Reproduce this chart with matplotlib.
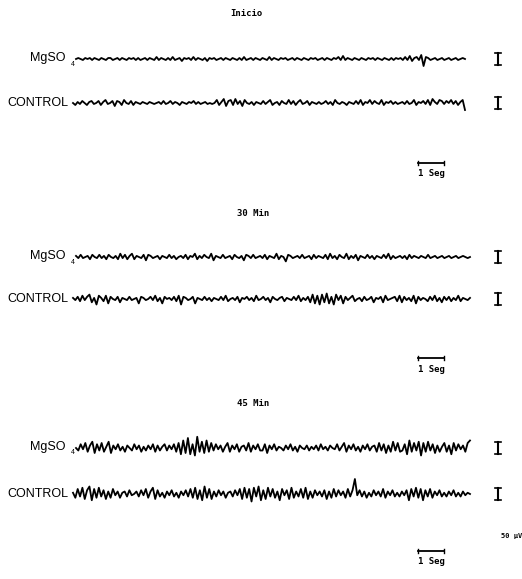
import numpy as np
import matplotlib
matplotlib.use('Agg')
from matplotlib import pyplot as plt

# eeg traces, deflection in px (up = positive)
m0 = [0,1,0,-1,1,0,1,-1,1,0,-1,1,0,-1,1,1,-1,0,1,-1,
      1,0,-1,1,0,1,-1,1,-1,0,1,-1,1,0,-1,2,-1,1,0,-1,
      1,-1,2,-1,0,1,-2,1,0,1,-1,2,-1,1,0,-1,1,-2,1,0,
      1,-1,0,1,-1,1,0,-1,1,0,-1,1,-1,2,-1,0,1,-1,1,0,
      -1,1,0,-1,2,-1,1,0,-1,1,0,1,-1,0,1,-1,1,0,-1,1,
      0,-1,1,0,1,-1,0,1,-1,1,0,-1,1,0,2,-1,3,-1,1,0,
      -1,1,0,-1,1,0,-1,1,0,1,-1,1,0,-1,1,0,-1,1,-1,1,
      0,1,-1,2,-1,3,-2,1,2,-1,4,-7,2,1,-1,0,1,-1,0,1,
      -1,0,1,-1,0,1,-1,0,1,0]
c0 = [0,-2,1,-1,2,0,-2,1,2,-1,0,2,-2,1,3,-1,0,2,-3,2,
      1,-2,3,0,-1,2,-2,1,0,-1,1,0,-1,1,0,-1,0,1,-1,2,
      -1,0,2,-1,1,0,-2,1,0,-1,1,0,2,-1,1,-1,0,1,-1,0,
      -1,0,3,-2,1,4,-3,2,3,-2,4,-1,2,-3,3,0,-1,1,-2,1,
      0,-1,2,-1,1,3,-2,0,1,-2,2,0,-1,3,-1,2,-2,1,3,-1,
      0,2,-2,1,0,-1,1,-1,0,2,-1,1,-2,3,0,-1,1,0,-2,1,
      0,-1,2,-1,3,-2,1,0,3,-1,2,0,-1,3,-2,1,0,2,-1,1,
      -1,0,1,-1,2,-1,0,3,-2,1,0,2,-1,3,-2,4,1,-1,3,2,
      -1,2,0,3,-1,2,-2,1,3,-7]
m30 = [1,-1,2,-1,0,1,-2,2,0,-1,2,-1,1,-2,2,0,-1,1,-2,3,
       -1,2,-2,1,3,-2,1,0,-1,2,-3,2,1,-1,0,1,-2,1,0,-1,
       2,-1,1,-2,0,1,-1,2,-2,1,0,3,-2,1,-1,2,0,-1,3,-3,
       1,0,-1,2,-1,0,1,-2,2,0,-1,1,-3,2,1,-1,2,-1,0,1,
       -1,2,-2,1,0,-1,3,-2,1,0,-4,2,1,-1,0,1,-1,2,-1,0,
       1,-2,2,-1,1,0,-1,2,-2,3,-1,1,-2,2,0,-1,3,-2,1,-1,
       2,-3,1,0,-1,2,-1,1,-2,1,0,-1,2,-1,3,-2,1,-1,0,1,
       -1,1,-2,2,-1,1,0,-1,1,0,-1,2,-1,0,1,-1,0,1,-1,0,
       1,-1,0,1,-1,0,1,0,-1,0]
c30 = [1,-1,2,-2,3,-1,2,4,-3,1,-5,3,1,-2,3,-4,2,0,-1,2,
       -3,1,0,-1,2,-1,0,1,-4,2,1,-1,0,2,-1,3,-2,1,-4,2,
       0,1,-1,2,-2,3,-5,2,1,-1,0,2,-4,1,0,-1,2,-1,1,-2,
       1,0,-1,2,-1,3,-2,0,1,-1,2,-3,1,0,2,-1,1,-2,3,-1,
       0,2,-1,1,-3,2,0,-1,1,2,-2,1,0,-1,2,-1,3,-2,1,-1,
       2,-3,4,-4,3,-5,4,-3,5,-4,2,-5,4,-1,3,-4,2,-1,1,3,
       -2,0,1,-2,2,-1,0,2,-3,1,0,2,-3,3,-1,0,1,2,-2,3,
       -3,2,-1,1,-2,3,-4,2,-1,1,0,-2,2,-1,3,-2,1,-3,2,-1,
       2,-2,1,-1,3,-2,1,0,-1,1]
m45 = [0,-2,3,-1,4,-3,2,5,-4,3,-2,4,-3,1,5,-4,2,-1,3,-2,
       1,-3,2,0,-2,3,-1,2,-3,1,-2,2,-1,3,-3,2,-2,1,3,-2,
       2,-1,3,-3,4,-5,6,-4,8,-5,3,-6,9,-3,5,-4,6,-3,4,-2,
       3,-1,2,-3,1,4,-3,2,-1,3,-3,1,2,-2,4,-3,2,-1,3,-2,
       -2,3,-4,2,-1,3,-2,1,0,-2,2,-1,3,-2,1,-3,2,0,-1,2,
       -2,1,-1,2,-2,3,-1,1,-2,2,0,-1,3,-2,1,4,-3,2,-1,3,
       -2,1,-3,2,-1,3,-2,1,2,-3,4,-2,3,-4,2,-3,5,-2,4,-3,
       -2,3,-5,6,-3,4,-2,5,-6,4,-3,5,-2,3,-4,2,-3,1,4,-3,
       2,-5,4,-2,3,-1,2,-3,4,6]
c45 = [1,-3,4,-2,5,-4,3,6,-5,4,-3,5,-2,3,-4,2,-3,4,-1,2,
       -3,1,2,-2,3,-1,0,2,-2,3,-1,4,-3,2,5,-4,3,-2,1,-3,
       2,-1,3,-2,1,-3,2,-1,3,-2,4,-3,5,-4,3,-5,6,-3,4,-4,
       2,-2,3,-1,2,-3,1,2,-2,3,-1,4,-4,5,-3,4,-6,5,-2,6,
       -5,3,-4,5,-2,4,-3,2,-5,4,-1,3,-4,5,-3,2,-2,4,-3,5,
       -4,2,-3,3,-1,2,-2,3,-4,2,-3,4,-2,3,-1,2,-3,4,-2,3,
       12,-1,3,-2,2,-3,1,-2,3,-1,2,-2,4,-3,2,-1,3,-2,1,-2,
       2,-1,3,-5,4,-2,5,-3,4,-5,3,-2,4,-3,2,-1,3,-2,1,-2,
       2,-1,3,-2,1,-2,2,-1,1,0]

panels = ['Inicio', '30 Min', '45 Min']
traces = [(m0, c0), (m30, c30), (m45, c45)]
trace_end = [465, 470, 470]
gain = [1.0, 1.1, 1.25]

fig = plt.figure(figsize=(5.22, 5.79), dpi=100)
ax = fig.add_axes([0, 0, 1, 1])
ax.set_xlim(0, 522)
ax.set_ylim(579, 0)
ax.axis('off')

lab = dict(family='Liberation Sans', fontsize=9, va='center')
mono = dict(family='DejaVu Sans Mono', fontsize=6.5, weight='bold', ha='center', va='center')

title_y = [14, 213, 404]
mg_y = [59, 257, 448]
ct_y = [103, 299, 494]
seg_y = [163, 358, 551]

for k in range(3):
    ax.text(246 + 7 * (k > 0), title_y[k], panels[k], **mono)
    m, c = traces[k]
    xm = np.linspace(76, trace_end[k], len(m))
    xc = np.linspace(73, trace_end[k], len(c))
    ax.plot(xm, mg_y[k] - gain[k] * np.array(m), color='k', lw=1.3)
    ax.plot(xc, ct_y[k] - gain[k] * np.array(c), color='k', lw=1.3)
    ax.text(30, mg_y[k] - 1, 'MgSO', ha='left', **lab)
    ax.text(71, mg_y[k] + 5, '4', ha='left', family='Liberation Sans', fontsize=5, va='center')
    ax.text(7, ct_y[k], 'CONTROL', ha='left', **lab)
    # 50 uV calibration bars
    for yc in (mg_y[k], ct_y[k]):
        ax.plot([498, 498], [yc - 6, yc + 6], color='k', lw=1.5)
        ax.plot([495, 501], [yc - 6, yc - 6], color='k', lw=1.2)
        ax.plot([495, 501], [yc + 6, yc + 6], color='k', lw=1.2)
    # 1 s bar
    ax.plot([418, 444], [seg_y[k], seg_y[k]], color='k', lw=1.3)
    ax.plot([418, 418], [seg_y[k] - 2, seg_y[k] + 2], color='k', lw=1)
    ax.plot([444, 444], [seg_y[k] - 2, seg_y[k] + 2], color='k', lw=1)
    ax.text(431, seg_y[k] + 11, '1 Seg', **mono)

ax.text(501, 536, '50 \u03bcV', family='DejaVu Sans Mono', fontsize=5, weight='bold', ha='left', va='center')

plt.savefig('out.png', dpi=100)
